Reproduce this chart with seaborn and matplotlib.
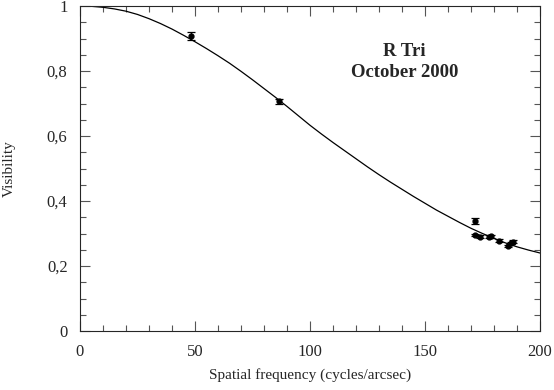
import matplotlib
matplotlib.use("Agg")
import matplotlib.pyplot as plt
import seaborn as sns
import pandas as pd
from matplotlib.ticker import MultipleLocator, FuncFormatter

sns.set_style("ticks")
plt.rcParams["font.family"] = ["Liberation Serif", "DejaVu Serif"]

# measured visibilities
freq = [48.1, 86.5, 171.6, 171.6, 174.0, 177.7, 178.8, 182.2, 186.1, 187.3, 188.4]
vis = [0.907, 0.707, 0.339, 0.296, 0.290, 0.290, 0.291, 0.278, 0.262, 0.271, 0.275]
vis_err = [0.013, 0.008, 0.009, 0.004, 0.004, 0.004, 0.004, 0.004, 0.004, 0.004, 0.004]

# model curve
model_freq = [0, 5, 10, 15, 20, 25, 30, 35, 40, 45, 50, 55, 60, 65, 70, 75, 80, 85,
              90, 95, 100, 105, 110, 115, 120, 125, 130, 135, 140, 145, 150, 155,
              160, 165, 170, 175, 180, 185, 190, 195, 200]
model_vis = [1.0, 0.999, 0.996, 0.991, 0.984, 0.974, 0.961, 0.946, 0.929, 0.910,
             0.890, 0.869, 0.847, 0.824, 0.799, 0.773, 0.746, 0.719, 0.691, 0.662,
             0.633, 0.606, 0.580, 0.555, 0.530, 0.505, 0.481, 0.458, 0.436, 0.414,
             0.393, 0.372, 0.353, 0.334, 0.316, 0.300, 0.285, 0.271, 0.259, 0.249, 0.240]

x_ticks = [0, 50, 100, 150, 200]
y_ticks = [0, 0.2, 0.4, 0.6, 0.8, 1.0]

fig = plt.figure(figsize=(5.54, 3.90), dpi=100)
ax = fig.add_axes([80 / 554, 59 / 390, 460 / 554, 325 / 390])

model = pd.DataFrame({"freq": model_freq, "vis": model_vis})
sns.lineplot(data=model, x="freq", y="vis", color="black", linewidth=0.9, ax=ax)

ax.errorbar(freq, vis, yerr=vis_err, fmt="o", color="black", markersize=3.5,
            elinewidth=0.9, capsize=3, capthick=0.9)

ax.set_xlim(0, 200)
ax.set_ylim(0, 1)
ax.set_xticks(x_ticks)
ax.set_yticks(y_ticks)
ax.xaxis.set_minor_locator(MultipleLocator(10))
ax.yaxis.set_minor_locator(MultipleLocator(0.05))
ax.yaxis.set_major_formatter(FuncFormatter(lambda v, p: f"{v:g}".replace(".", ",")))
ax.tick_params(which="both", direction="in", top=True, right=True, labelsize=12,
               width=0.8, color="#555555")
ax.tick_params(which="major", length=7, pad=9)
ax.tick_params(which="minor", length=4)
for s in ax.spines.values():
    s.set_linewidth(0.8)

ax.set_xlabel("Spatial frequency (cycles/arcsec)", fontsize=11, labelpad=6)
ax.set_ylabel("Visibility", fontsize=11, labelpad=22)

ax.text(141, 0.828, "R Tri\nOctober 2000", ha="center", va="center",
        fontsize=13.5, fontweight="bold", linespacing=1.3)

fig.savefig("out.png", dpi=100)
plt.close()
